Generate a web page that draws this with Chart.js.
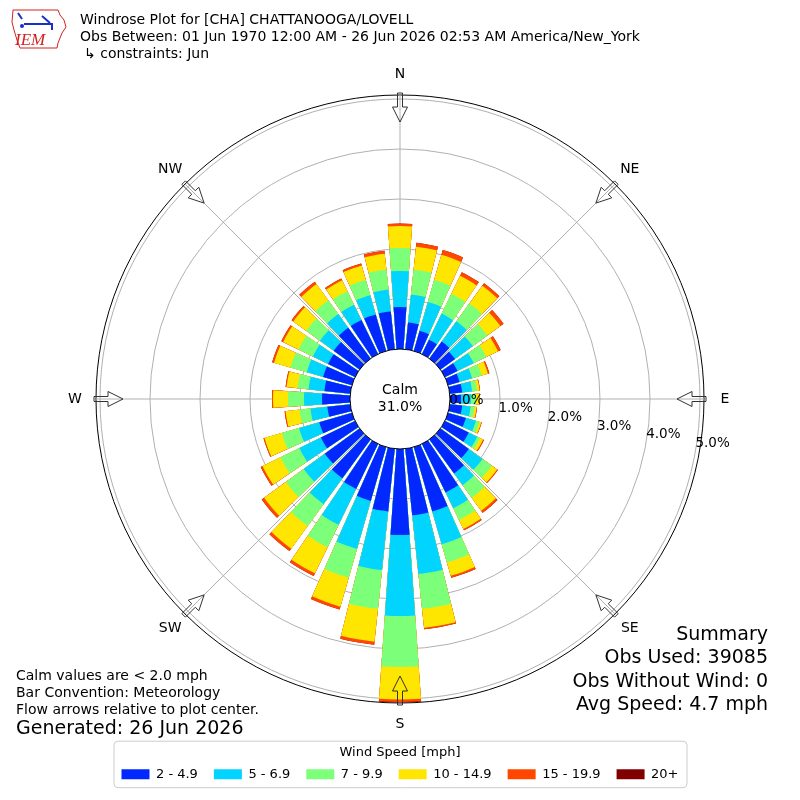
<!DOCTYPE html>
<html><head><meta charset="utf-8">
<script src="https://cdn.jsdelivr.net/npm/chart.js@4.4.1/dist/chart.umd.min.js"></script>
<style>html,body{margin:0;padding:0;background:#fff;}#wrap{width:800px;height:800px;position:relative;}</style>
</head><body><div id="wrap"><canvas id="c" width="800" height="800"></canvas></div>
<script>
// ---------------- data ----------------
const DIRECTIONS = [0,10,20,30,40,50,60,70,80,90,100,110,120,130,140,150,160,170,180,190,200,210,220,230,240,250,260,270,280,290,300,310,320,330,340,350];
const DIR_LABELS = ['N','NE','E','SE','S','SW','W','NW'];
const SPEED_BINS = ['2 - 4.9','5 - 6.9','7 - 9.9','10 - 14.9','15 - 19.9','20+'];
const BIN_COLORS = ['#0028ff','#00d4ff','#7cff79','#ffe600','#ff4700','#800000'];
// percent of observations per direction, per speed bin
const PCT_2_5 = [0.84,0.54,0.42,0.32,0.42,0.36,0.28,0.24,0.25,0.22,0.25,0.37,0.53,0.70,0.84,1.08,1.34,1.34,1.72,1.26,1.12,1.00,0.96,0.86,0.76,0.68,0.46,0.56,0.52,0.60,0.60,0.64,0.76,0.76,0.76,0.76];
const PCT_5_7 = [0.72,0.56,0.60,0.58,0.50,0.44,0.36,0.26,0.20,0.20,0.17,0.21,0.19,0.34,0.29,0.35,0.68,1.18,1.62,1.18,1.00,0.80,0.64,0.52,0.48,0.42,0.34,0.36,0.32,0.34,0.34,0.34,0.34,0.34,0.40,0.44];
const PCT_7_10 = [0.46,0.50,0.46,0.44,0.44,0.36,0.28,0.20,0.10,0.10,0.08,0.07,0.06,0.23,0.31,0.26,0.38,0.70,1.02,0.78,0.60,0.50,0.54,0.44,0.42,0.36,0.22,0.32,0.22,0.34,0.32,0.34,0.34,0.30,0.32,0.40];
const PCT_10_15 = [0.44,0.46,0.52,0.40,0.44,0.32,0.26,0.13,0.05,0.07,0.04,0.04,0.07,0.13,0.32,0.20,0.28,0.38,0.65,0.66,0.60,0.58,0.56,0.54,0.40,0.36,0.28,0.30,0.22,0.34,0.34,0.32,0.40,0.24,0.30,0.32];
const PCT_15_20 = [0.05,0.08,0.10,0.08,0.06,0.08,0.06,0.03,0.01,0.01,0.01,0.01,0.02,0.02,0.05,0.03,0.04,0.03,0.05,0.06,0.06,0.06,0.06,0.06,0.04,0.02,0.02,0.02,0.02,0.04,0.04,0.04,0.06,0.04,0.04,0.06];
const PCT_20_UP = [0,0,0,0,0,0,0,0,0,0,0,0,0,0,0,0,0,0,0.01,0,0,0,0,0,0,0,0,0,0,0,0,0,0,0,0,0];
const SERIES = [PCT_2_5, PCT_5_7, PCT_7_10, PCT_10_15, PCT_15_20, PCT_20_UP];
const TICK_VALUES = [0,1,2,3,4,5];
const CALM_PCT = 31.0;
const R_MIN = -1, R_MAX = 5.08;

const TITLE_LINES = ['Windrose Plot for [CHA] CHATTANOOGA/LOVELL',
  'Obs Between: 01 Jun 1970 12:00 AM - 26 Jun 2026 02:53 AM America/New_York',
  '\u21b3 constraints: Jun'];
const NOTE_LINES = ['Calm values are < 2.0 mph','Bar Convention: Meteorology','Flow arrows relative to plot center.'];
const GENERATED = 'Generated: 26 Jun 2026';
const SUMMARY_LINES = ['Summary','Obs Used: 39085','Obs Without Wind: 0','Avg Speed: 4.7 mph'];

// ------------- build stacked (cumulative) datasets; bar + gap slots -------------
const BAR_DEG = 8, GAP_DEG = 2;
const labels = [];
DIRECTIONS.forEach(d => { labels.push(d + '\u00b0'); labels.push(''); });
const datasets = SERIES.map((s, k) => {
  const data = [];
  DIRECTIONS.forEach((d, i) => {
    let cum = 0;
    for (let j = 0; j <= k; j++) cum += SERIES[j][i];
    data.push(+cum.toFixed(3));
    data.push(0);
  });
  return {
    label: SPEED_BINS[k],
    data: data,
    rAxisID: 'r',
    backgroundColor: c => (c.dataIndex % 2 ? 'rgba(0,0,0,0)' : BIN_COLORS[k]),
    borderWidth: 0,
    angle: c => (c.dataIndex % 2 ? GAP_DEG : BAR_DEG)
  };
});

const FONT = "'DejaVu Sans', sans-serif";

function drawLogo(ctx) {
  ctx.save();
  ctx.strokeStyle = '#d42020'; ctx.lineWidth = 1;
  ctx.beginPath();
  ctx.moveTo(13, 10); ctx.lineTo(58, 10); ctx.lineTo(60, 15); ctx.lineTo(64, 20);
  ctx.lineTo(66, 27); ctx.lineTo(62, 33); ctx.lineTo(60, 38); ctx.lineTo(58, 43);
  ctx.lineTo(57, 48); ctx.lineTo(20, 48); ctx.lineTo(17, 40); ctx.lineTo(14, 30);
  ctx.lineTo(12, 22); ctx.closePath(); ctx.stroke();
  ctx.strokeStyle = '#1a2fc8'; ctx.fillStyle = '#1a2fc8'; ctx.lineWidth = 2;
  ctx.beginPath(); ctx.moveTo(24, 24); ctx.lineTo(53, 24); ctx.stroke();
  ctx.beginPath(); ctx.moveTo(42, 16); ctx.lineTo(50, 23); ctx.stroke();
  ctx.beginPath(); ctx.moveTo(18, 13); ctx.lineTo(22, 19); ctx.stroke();
  ctx.beginPath(); ctx.moveTo(52, 24); ctx.lineTo(52, 30); ctx.stroke();
  ctx.beginPath(); ctx.arc(22, 26, 2, 0, Math.PI * 2); ctx.fill();
  ctx.fillStyle = '#d42020';
  ctx.font = "italic 17px 'Liberation Serif', serif";
  ctx.textAlign = 'left'; ctx.textBaseline = 'alphabetic';
  ctx.fillText('IEM', 15, 45);
  ctx.restore();
}

// distance from centre for a value on a radial scale (uses the scale's own geometry)
function dist(scale, v) {
  if (typeof scale.getDistanceFromValue === 'function') return scale.getDistanceFromValue(v);
  return scale.drawingArea * (v - scale.min) / (scale.max - scale.min);
}
function findScale(chart, id) {
  const list = Object.values(chart.scales);
  return list.find(s => s.id === id) || list[0];
}

const decor = {
  id: 'decor',
  afterDraw(chart) {
    const ctx = chart.ctx;
    ctx.save();
    try {
      const main = findScale(chart, 'r'), dirs = findScale(chart, 'r2');
      const cx = main.xCenter, cy = main.yCenter;
      // calm circle
      const calmR = dist(main, 0);
      ctx.beginPath(); ctx.arc(cx, cy, calmR, 0, Math.PI * 2);
      ctx.fillStyle = '#fff'; ctx.fill();
      ctx.strokeStyle = '#000'; ctx.lineWidth = 1; ctx.stroke();
      ctx.fillStyle = '#000'; ctx.textAlign = 'center'; ctx.textBaseline = 'middle';
      ctx.font = '14px ' + FONT;
      ctx.fillText('Calm', cx, cy - 9);
      ctx.fillText(CALM_PCT.toFixed(1) + '%', cx, cy + 8);
      // radial tick labels (at 100 deg bearing)
      const th = 100 * Math.PI / 180;
      ctx.font = '13.5px ' + FONT; ctx.textAlign = 'left';
      TICK_VALUES.forEach(v => {
        const d = dist(main, v);
        ctx.fillText(v.toFixed(1) + '%', cx + d * Math.sin(th), cy - d * Math.cos(th) - 7.5);
      });
      // direction arrows + labels
      const outer = dist(dirs, R_MAX);
      ctx.strokeStyle = '#333'; ctx.lineWidth = 1;
      DIR_LABELS.forEach((lab, i) => {
        const a = dirs.getIndexAngle(i) - Math.PI / 2;
        const ux = Math.cos(a), uy = Math.sin(a), px = -uy, py = ux;
        const P = (d, w) => [cx + ux * d + px * w, cy + uy * d + py * w];
        const pts = [P(outer + 2, -2.5), P(outer - 12, -2.5), P(outer - 12, -7.5), P(outer - 27, 0),
                     P(outer - 12, 7.5), P(outer - 12, 2.5), P(outer + 2, 2.5)];
        ctx.beginPath(); ctx.moveTo(pts[0][0], pts[0][1]);
        for (let k = 1; k < pts.length; k++) ctx.lineTo(pts[k][0], pts[k][1]);
        ctx.closePath(); ctx.stroke();
        const lx = cx + ux * (outer + 21), ly = cy + uy * (outer + 21);
        ctx.fillStyle = '#000'; ctx.font = '14px ' + FONT; ctx.textAlign = 'center'; ctx.textBaseline = 'middle';
        ctx.fillText(lab, lx, ly);
      });
    } catch (e) {
      ctx.fillStyle = 'red'; ctx.font = '12px sans-serif'; ctx.textAlign = 'left';
      ctx.fillText('ERR ' + e.message, 100, 790);
    }
    // header
    drawLogo(ctx);
    ctx.fillStyle = '#000'; ctx.textAlign = 'left'; ctx.textBaseline = 'middle';
    ctx.font = '14px ' + FONT;
    ctx.fillText(TITLE_LINES[0], 80, 20);
    ctx.fillText(TITLE_LINES[1], 80, 37);
    ctx.fillText(TITLE_LINES[2], 84, 54);
    // notes
    NOTE_LINES.forEach((t, i) => ctx.fillText(t, 16, 676 + i * 17));
    ctx.font = '19px ' + FONT;
    ctx.fillText(GENERATED, 16, 729);
    ctx.textAlign = 'right';
    SUMMARY_LINES.forEach((t, i) => ctx.fillText(t, 768, 635 + i * 23.5));
    // legend frame
    const lg = chart.legend;
    if (lg && lg.legendHitBoxes && lg.legendHitBoxes.length) {
      const hb = lg.legendHitBoxes;
      const x0 = hb[0].left - 8, x1 = hb[hb.length - 1].left + hb[hb.length - 1].width + 8;
      const y0 = lg.top + 0.5, y1 = lg.top + 47;
      ctx.strokeStyle = '#cccccc'; ctx.lineWidth = 1;
      ctx.beginPath();
      if (ctx.roundRect) ctx.roundRect(x0 + 0.5, y0, x1 - x0, y1 - y0, 4); else ctx.rect(x0 + 0.5, y0, x1 - x0, y1 - y0);
      ctx.stroke();
    }
    ctx.restore();
  }
};

new Chart(document.getElementById('c'), {
  type: 'polarArea',
  data: { labels: labels, datasets: datasets },
  options: {
    responsive: false,
    animation: false,
    events: [],
    layout: { padding: { left: 96, right: 96, top: 58.3, bottom: 9.2 } },
    scales: {
      r: {
        type: 'radialLinear', min: R_MIN, max: R_MAX, startAngle: -BAR_DEG / 2, z: 1,
        afterBuildTicks: s => { s.ticks = [R_MIN].concat(TICK_VALUES, [R_MAX]).map(v => ({ value: v })); },
        ticks: { display: false },
        pointLabels: { display: false },
        angleLines: { display: false },
        grid: {
          circular: true, lineWidth: 1,
          color: c => (c.tick && c.tick.value === R_MAX ? '#000' : (c.tick && c.tick.value > 0 ? '#b0b0b0' : 'rgba(0,0,0,0)'))
        }
      },
      r2: {
        type: 'radialLinear', axis: 'r', min: R_MIN, max: R_MAX, startAngle: 0, z: 1,
        labels: DIR_LABELS,
        ticks: { display: false },
        pointLabels: { display: false },
        grid: { display: false },
        angleLines: { display: true, color: '#b0b0b0', lineWidth: 1 }
      }
    },
    plugins: {
      tooltip: { enabled: false },
      legend: {
        position: 'bottom',
        align: 'center',
        title: { display: true, text: 'Wind Speed [mph]', color: '#000', font: { family: FONT, size: 13 }, padding: { top: 5.1, bottom: -9.6 } },
        labels: {
          color: '#000', font: { family: FONT, size: 13 }, boxWidth: 28, boxHeight: 10, padding: 16,
          generateLabels: chart => chart.data.datasets.map((ds, i) => ({
            text: ds.label, fillStyle: BIN_COLORS[i], strokeStyle: BIN_COLORS[i], lineWidth: 0, hidden: false, datasetIndex: i
          }))
        }
      }
    }
  },
  plugins: [decor]
});
</script></body></html>
